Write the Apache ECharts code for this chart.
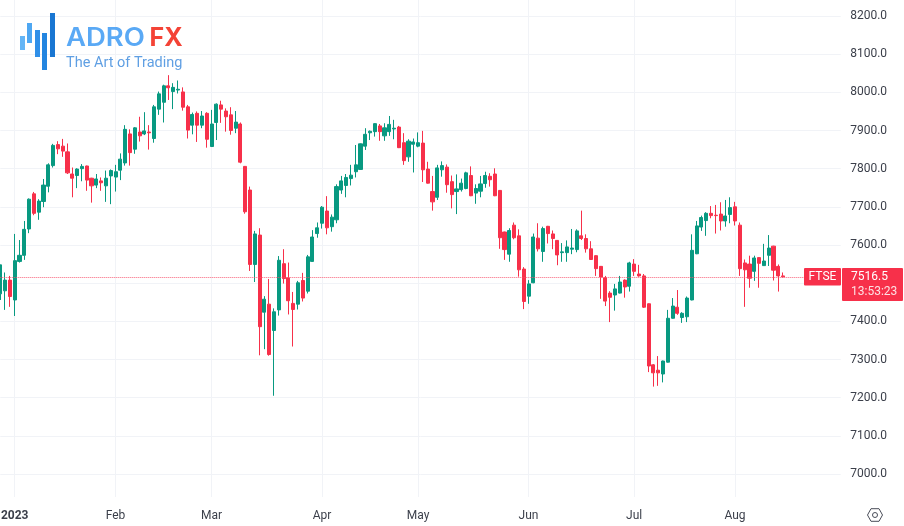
<!DOCTYPE html>
<html>
<head>
<meta charset="utf-8">
<title>FTSE</title>
<style>
  html, body { margin: 0; padding: 0; background: #fff; }
  #chart { width: 904px; height: 526px; }
</style>
<script src="https://cdn.jsdelivr.net/npm/echarts@6/dist/echarts.min.js"></script>
</head>
<body>
<div id="chart"></div>
<script>
/* ---------- data ---------- */
const opens = [
  7472,7480,7508,7456,7557,7573,7642,7734,7686,7714,7754,7808,7863,7859,7844,7786,7782,7800,7807,7775,
  7757,7768,7755,7781,7778,7796,7815,7891,7851,7896,7891,7896,7879,7956,7974,8017,8002,8006,8001,7962,
  7914,7945,7914,7945,7858,7921,7967,7951,7941,7906,7917,7806,7744,7549,7626,7424,7445,7376,7430,7551,
  7514,7447,7445,7507,7479,7557,7630,7657,7689,7648,7666,7744,7756,7774,7792,7798,7859,7894,7897,7912,
  7886,7897,7904,7909,7868,7831,7864,7859,7867,7799,7740,7725,7797,7804,7766,7740,7745,7748,7782,7736,
  7741,7761,7780,7786,7743,7634,7576,7652,7624,7537,7466,7501,7618,7583,7649,7629,7612,7580,7580,7589,
  7588,7624,7617,7590,7572,7544,7514,7474,7469,7474,7508,7492,7550,7524,7519,7446,7286,7272,7262,7293,
  7408,7437,7410,7412,7456,7577,7647,7664,7683,7678,7681,7663,7680,7700,7652,7553,7550,7531,7567,7546,
  7573,7597,7544,7519
];
const highs = [
  7548,7528,7519,7629,7613,7663,7722,7739,7720,7773,7814,7865,7872,7878,7866,7803,7801,7812,7808,7776,
  7786,7777,7795,7798,7810,7840,7914,7903,7909,7936,7948,7914,7967,8002,8020,8045,8024,8031,8013,7967,
  7947,7950,7951,7948,7954,7971,7978,7958,7961,7951,7921,7807,7753,7637,7644,7466,7511,7434,7571,7589,
  7554,7477,7506,7527,7574,7639,7659,7702,7728,7680,7759,7781,7786,7810,7862,7866,7906,7900,7919,7917,
  7919,7938,7928,7912,7893,7877,7879,7895,7899,7818,7781,7810,7819,7811,7782,7785,7774,7792,7806,7759,
  7781,7792,7788,7801,7744,7635,7644,7659,7641,7542,7508,7630,7657,7648,7650,7638,7613,7605,7612,7642,
  7641,7690,7628,7610,7573,7545,7519,7479,7498,7519,7510,7556,7563,7548,7524,7447,7288,7309,7297,7430,
  7461,7482,7424,7465,7628,7663,7677,7686,7702,7705,7712,7718,7725,7713,7659,7562,7572,7572,7568,7603,
  7626,7598,7549,7528
];
const lows = [
  7456,7430,7438,7414,7554,7561,7631,7678,7666,7699,7738,7803,7838,7831,7786,7725,7749,7767,7742,7711,
  7749,7742,7713,7707,7740,7770,7808,7808,7839,7871,7888,7850,7868,7941,7921,7980,7956,7997,7952,7879,
  7890,7870,7906,7855,7857,7875,7920,7897,7889,7893,7814,7682,7532,7503,7311,7327,7310,7205,7415,7499,
  7418,7334,7431,7452,7473,7556,7619,7643,7628,7635,7657,7734,7725,7756,7777,7797,7849,7875,7884,7873,
  7873,7886,7877,7854,7810,7818,7790,7856,7765,7761,7690,7718,7779,7737,7696,7681,7740,7746,7728,7708,
  7725,7750,7753,7728,7590,7561,7556,7615,7517,7432,7446,7500,7583,7556,7604,7589,7547,7556,7556,7576,
  7581,7613,7580,7561,7519,7459,7440,7398,7428,7473,7462,7478,7519,7517,7435,7267,7229,7231,7240,7292,
  7407,7417,7396,7398,7455,7576,7637,7624,7670,7630,7638,7648,7657,7651,7519,7438,7488,7506,7488,7545,
  7545,7507,7478,7515
];
const closes = [
  7548,7508,7465,7559,7573,7641,7720,7683,7715,7757,7810,7861,7852,7846,7789,7775,7799,7806,7770,7755,
  7773,7763,7775,7795,7792,7825,7903,7842,7907,7886,7899,7894,7962,7996,8017,8012,8013,8008,7961,7901,
  7942,7914,7938,7877,7917,7969,7956,7936,7900,7922,7817,7687,7549,7629,7386,7458,7313,7425,7560,7512,
  7454,7431,7501,7461,7569,7621,7645,7699,7645,7673,7753,7768,7777,7783,7810,7865,7890,7898,7918,7897,
  7907,7916,7906,7855,7821,7872,7870,7868,7797,7762,7713,7802,7808,7758,7732,7747,7762,7789,7729,7748,
  7760,7782,7771,7729,7619,7588,7638,7619,7535,7452,7498,7621,7590,7643,7630,7617,7574,7582,7595,7592,
  7637,7617,7590,7562,7538,7516,7453,7463,7485,7503,7490,7553,7531,7519,7437,7283,7265,7265,7296,7408,
  7440,7421,7421,7461,7586,7650,7672,7683,7677,7677,7663,7676,7698,7663,7538,7535,7513,7566,7552,7558,
  7592,7534,7519,7516.5
];
const tickIndex = [3, 24, 44, 67, 87, 110, 132, 153];
const tickLabels = ['2023', 'Feb', 'Mar', 'Apr', 'May', 'Jun', 'Jul', 'Aug'];
const barSlots = 176; // candles plus the empty room on the right
const lastPrice = 7516.5;
const lastPriceText = '7516.5';
const countdownText = '13:53:23';
const symbolName = 'FTSE';

const UP = '#089981';
const DOWN = '#f7304a';
const GRID = '#f1f3f7';
const TEXT = '#3b3f4a';
const FONT = 'Roboto, sans-serif';

const candles = opens.map((o, i) => [o, closes[i], lows[i], highs[i]]);
const categories = Array.from({ length: barSlots }, (_, i) => {
  const t = tickIndex.indexOf(i);
  if (t < 0) return String(i);
  return t === 0 ? { value: tickLabels[t], textStyle: { fontWeight: 'bold' } } : tickLabels[t];
});
const isTick = (i) => tickIndex.includes(i);

/* ---------- logo, price tags, settings icon ---------- */
const logoBars = [
  [20, 36, 5, 14, '#64b5f6'],
  [27, 23, 5, 20, '#4ea7f2'],
  [35, 30, 5, 27, '#2f8fe8'],
  [42, 33, 5, 37, '#2385e0'],
  [50, 13, 5, 44, '#1976d2'],
];

const graphics = [
  ...logoBars.map(([x, y, width, height, fill]) => ({
    type: 'rect', shape: { x, y, width, height }, style: { fill }, z: 10, silent: true,
  })),
  { type: 'text', x: 66, y: 26, scaleX: 1.1, z: 10, silent: true,
    style: { text: 'ADRO', fill: '#5aa9f5', font: '600 25px Inter, sans-serif' } },
  { type: 'text', x: 149.5, y: 26, z: 10, silent: true,
    style: { text: 'FX', fill: '#f44336', font: '700 25px Inter, sans-serif' } },
  { type: 'text', x: 66, y: 56, z: 10, silent: true,
    style: { text: 'The Art of Trading', fill: '#5f9fe3', font: '14.5px Roboto, sans-serif' } },

  { type: 'rect', shape: { x: 804, y: 268, width: 37, height: 17.5, r: 1 }, style: { fill: DOWN }, z: 10, silent: true },
  { type: 'text', x: 822.5, y: 277, z: 11, silent: true,
    style: { text: symbolName, fill: '#fff', font: '12px ' + FONT, align: 'center', verticalAlign: 'middle' } },
  { type: 'rect', shape: { x: 842, y: 268, width: 61, height: 33, r: 1 }, style: { fill: DOWN }, z: 10, silent: true },
  { type: 'text', x: 851, y: 277, z: 11, silent: true,
    style: { text: lastPriceText, fill: '#fff', font: '12px ' + FONT, verticalAlign: 'middle' } },
  { type: 'text', x: 851, y: 292, z: 11, silent: true,
    style: { text: countdownText, fill: '#fde0e3', font: '12px ' + FONT, verticalAlign: 'middle' } },

  { type: 'polygon', z: 10, silent: true,
    shape: { points: [[867.5, 515], [871, 508.7], [879, 508.7], [882.5, 515], [879, 521.3], [871, 521.3]] },
    style: { fill: 'none', stroke: '#4a4e59', lineWidth: 1 } },
  { type: 'circle', z: 10, silent: true, shape: { cx: 875, cy: 515, r: 2.5 },
    style: { fill: 'none', stroke: '#4a4e59', lineWidth: 1 } },
];

/* ---------- chart ---------- */
const chart = echarts.init(document.getElementById('chart'), null, { renderer: 'canvas' });
chart.setOption({
  backgroundColor: '#fff',
  animation: false,
  // grid 0 holds price scale and candles, grid 1 only the time axis running the full pane height
  grid: [
    { left: 0.3, right: 63.3, top: 16, height: 458, outerBoundsMode: 'none' },
    { left: 0.3, right: 63.3, top: 0, height: 497, outerBoundsMode: 'none' },
  ],
  xAxis: [
    { type: 'category', gridIndex: 0, data: categories, boundaryGap: false, show: false },
    {
      type: 'category',
      gridIndex: 1,
      data: categories,
      boundaryGap: false,
      axisLine: { show: false },
      axisTick: { show: false },
      axisLabel: { interval: (i) => isTick(i), color: TEXT, fontFamily: FONT, fontSize: 12, margin: 13 },
      splitLine: { show: true, interval: (i) => isTick(i), lineStyle: { color: GRID, width: 1 } },
    },
  ],
  yAxis: [
    {
      type: 'value',
      gridIndex: 0,
      position: 'right',
      min: 7000,
      max: 8200,
      interval: 100,
      axisLine: { show: false },
      axisTick: { show: false },
      axisLabel: {
        color: TEXT, fontFamily: FONT, fontSize: 12, margin: 9.5,
        formatter: (v) => v.toFixed(1),
      },
      splitLine: { show: true, lineStyle: { color: GRID, width: 1 } },
    },
    { type: 'value', gridIndex: 1, min: 0, max: 1, show: false },
  ],
  series: [
    {
      name: symbolName,
      type: 'candlestick',
      xAxisIndex: 0,
      yAxisIndex: 0,
      data: candles,
      barWidth: 3.6,
      itemStyle: {
        color: UP,
        color0: DOWN,
        borderColor: UP,
        borderColor0: DOWN,
        borderWidth: 1,
      },
      markLine: {
        silent: true,
        symbol: 'none',
        animation: false,
        label: { show: false },
        lineStyle: { color: '#f7506a', type: [1, 1], width: 1, opacity: 0.9 },
        data: [{ yAxis: lastPrice }],
      },
    },
  ],
  graphic: graphics,
});
</script>
</body>
</html>
